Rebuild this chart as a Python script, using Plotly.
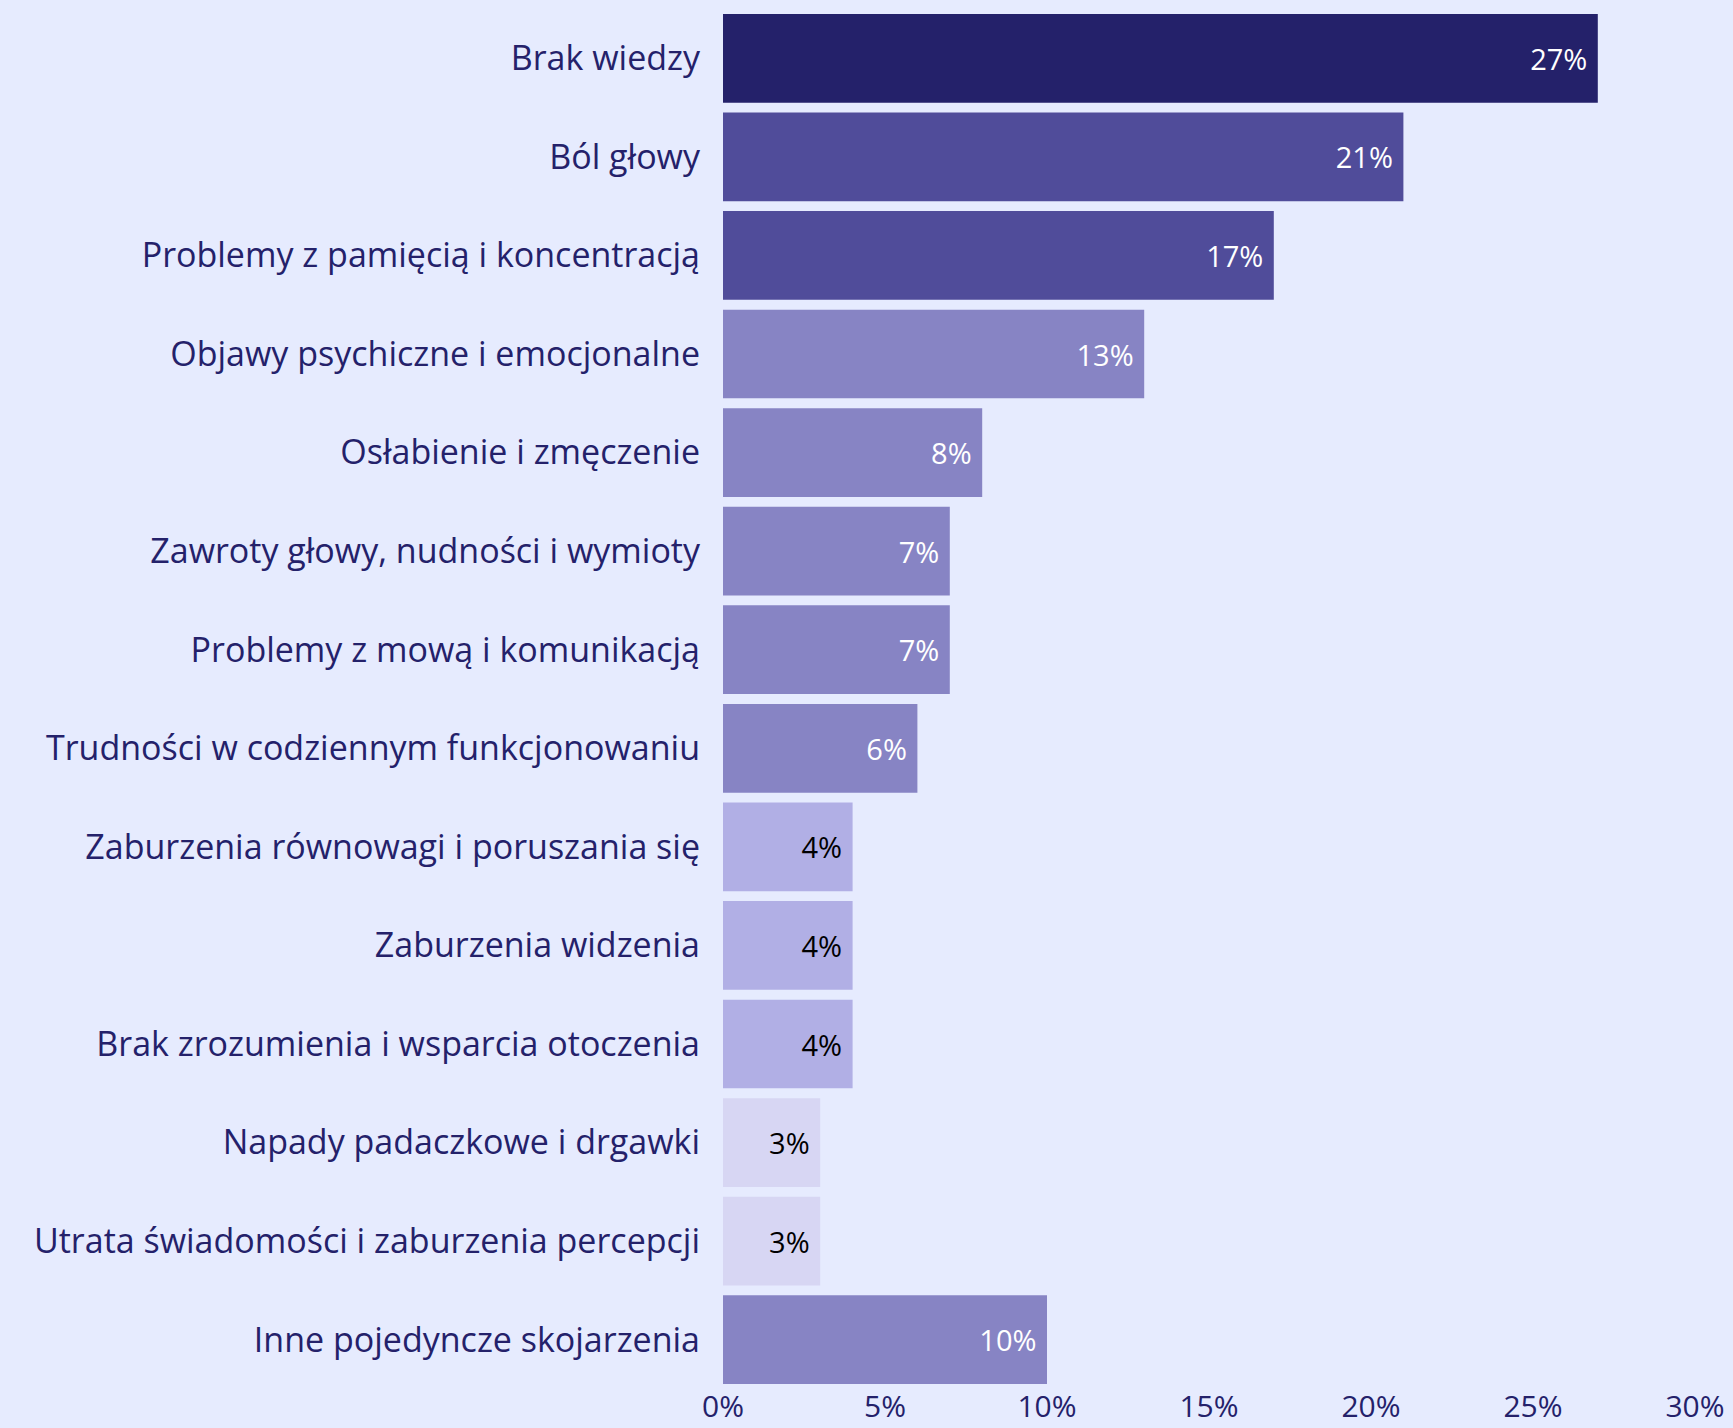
import plotly.graph_objects as go

CATEGORIES = [
    "Brak wiedzy",
    "Ból głowy",
    "Problemy z pamięcią i koncentracją",
    "Objawy psychiczne i emocjonalne",
    "Osłabienie i zmęczenie",
    "Zawroty głowy, nudności i wymioty",
    "Problemy z mową i komunikacją",
    "Trudności w codziennym funkcjonowaniu",
    "Zaburzenia równowagi i poruszania się",
    "Zaburzenia widzenia",
    "Brak zrozumienia i wsparcia otoczenia",
    "Napady padaczkowe i drgawki",
    "Utrata świadomości i zaburzenia percepcji",
    "Inne pojedyncze skojarzenia",
]
VALUES = [27, 21, 17, 13, 8, 7, 7, 6, 4, 4, 4, 3, 3, 10]

BAR_COLORS = [
    "#24216A", "#504C9A", "#504C9A", "#8784C4", "#8784C4", "#8784C4", "#8784C4",
    "#8784C4", "#B1AFE5", "#B1AFE5", "#B1AFE5", "#D7D6F3", "#D7D6F3", "#8784C4",
]
TEXT_COLORS = ["white"] * 8 + ["black"] * 5 + ["white"]

TICK_VALS = [0, 5, 10, 15, 20, 25, 30]
TICK_TEXT = ["0%", "5%", "10%", "15%", "20%", "25%", "30%"]

BG = "#E6EBFE"
INK = "#24216A"
FONT = "Open Sans, sans-serif"

fig = go.Figure(go.Bar(
    x=VALUES,
    y=CATEGORIES,
    orientation="h",
    marker_color=BAR_COLORS,
    marker_line_width=0,
    text=[f"{v}%\u00a0" for v in VALUES],
    textposition="inside",
    insidetextanchor="end",
    textfont=dict(size=29, color=TEXT_COLORS, family=FONT),
    hovertemplate="%{y}: %{x}%<extra></extra>",
))

fig.update_layout(
    width=1733,
    height=1428,
    paper_bgcolor=BG,
    plot_bgcolor=BG,
    font=dict(family=FONT, color=INK, size=29),
    margin=dict(l=723, r=38, t=9, b=39),
    bargap=0.1,
    showlegend=False,
    xaxis=dict(
        range=[0, 30],
        tickvals=TICK_VALS,
        ticktext=TICK_TEXT,
        showgrid=False,
        zeroline=False,
        showline=False,
        automargin=False,
        tickfont=dict(size=30, color=INK),
        ticklabelstandoff=-3,
    ),
    yaxis=dict(
        autorange="reversed",
        showgrid=False,
        zeroline=False,
        showline=False,
        automargin=False,
        tickfont=dict(size=34, color=INK),
        ticklabelstandoff=22,
    ),
)

fig.write_html(
    "out.html",
    config={"displayModeBar": False},
    post_script="document.body.style.margin='0';",
)
